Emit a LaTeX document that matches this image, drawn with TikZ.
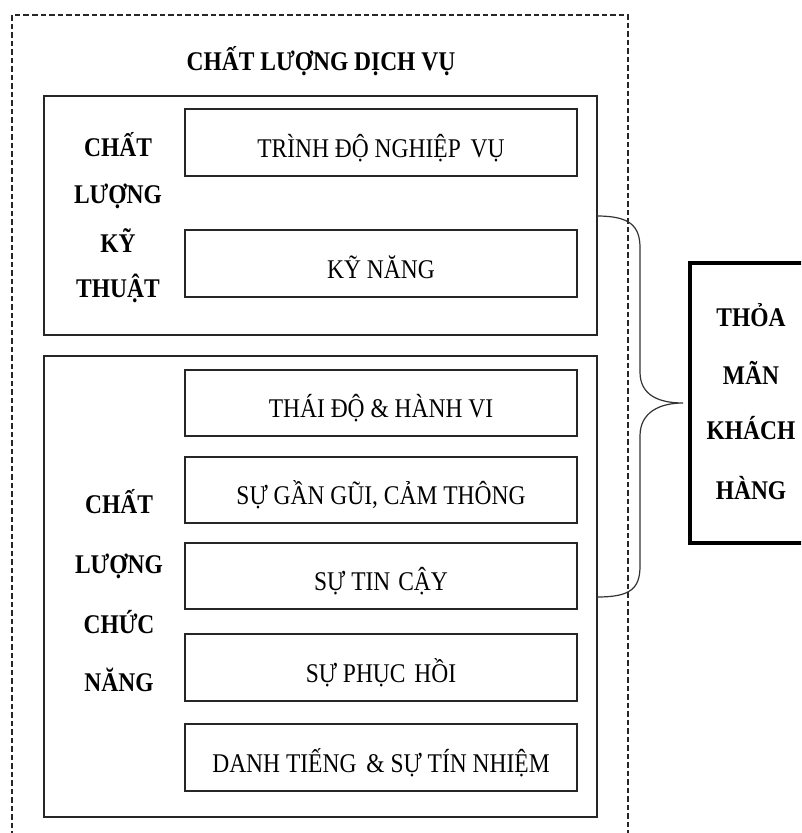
\documentclass[tikz,border=0pt]{standalone}
\usepackage{fontspec}
\setmainfont{Liberation Serif}[FakeStretch=0.87]
\begin{document}
\begin{tikzpicture}[x=1pt,y=-1pt,
  box/.style={draw=black!85, line width=1.2pt, rectangle, inner sep=0pt, outer sep=0pt},
  group/.style={box, minimum width=553pt},
  item/.style={box, minimum width=392pt, minimum height=67pt,
    font=\fontsize{27}{30}\selectfont, text height=29.9pt, text depth=0pt},
  lbl/.style={font=\bfseries\fontsize{27}{30}\selectfont, inner sep=0pt, anchor=base},
  frame/.style={draw=black!85, line width=1.2pt, dash pattern=on 5.5pt off 3pt},
  bracestyle/.style={draw=black!80, line width=1.2pt},
  result/.style={draw=black, line width=4pt, rectangle, inner sep=0pt, outer sep=0pt,
    minimum width=122pt, minimum height=280pt}]
\useasboundingbox (0,0) rectangle (801,833);
\clip (0,0) rectangle (801,833);
\fill[white] (0,0) rectangle (801,833);

% dashed frame (open at the bottom)
\draw[frame] (12,845) -- (12,15) -- (628,15) -- (628,845);

\node[lbl] (title) at (321,70.6) {CHẤT LƯỢNG DỊCH VỤ};

% technical quality group
\node[group, minimum height=239pt] (tech) at (320.5,215.5) {};
\node[lbl] (tA) at (118,156.1) {CHẤT};
\node[lbl] (tB) at (118,203.1) {LƯỢNG};
\node[lbl] (tC) at (118,252.1) {KỸ};
\node[lbl] (tD) at (118,297.1) {THUẬT};
\node[item] (b1) at (381,142.5) {TRÌNH ĐỘ NGHIỆP\hspace{4pt} VỤ};
\node[item] (b2) at (381,263.5) {KỸ NĂNG};

% functional quality group
\node[group, minimum height=461pt] (func) at (320.5,586.5) {};
\node[lbl] (fA) at (119,513.1) {CHẤT};
\node[lbl] (fB) at (119,573.1) {LƯỢNG};
\node[lbl] (fC) at (119,633.1) {CHỨC};
\node[lbl] (fD) at (119,691.1) {NĂNG};
\node[item, minimum height=66pt] (b3) at (381,403) {THÁI ĐỘ \& HÀNH VI};
\node[item, minimum height=66pt] (b4) at (381,490) {SỰ GẦN GŨI, CẢM THÔNG};
\node[item, minimum height=66pt] (b5) at (381,576) {SỰ TIN\hspace{2pt} CẬY};
\node[item] (b6) at (381,667.5) {SỰ PHỤC\hspace{3pt} HỒI};
\node[item] (b7) at (381,757.5) {DANH TIẾNG\hspace{4pt} \& SỰ TÍN NHIỆM};

% result box
\node[result] (thoa) at (751,403) {};
\node[lbl] (rA) at (751,326.1) {THỎA};
\node[lbl] (rB) at (751,384.1) {MÃN};
\node[lbl] (rC) at (751,439.1) {KHÁCH};
\node[lbl] (rD) at (751,499.1) {HÀNG};

% brace
\coordinate (bs) at (tech.east |- 0,216);
\coordinate (be) at (func.east |- 0,597);
\coordinate (tip) at ([xshift=-7pt]thoa.west);
\draw[bracestyle] (bs) .. controls (630,216) and (640,226) .. (640,248)
  -- (640,372) .. controls (640,396) and (660,403) .. (tip)
  .. controls (660,403) and (640,412) .. (640,436)
  -- (640,566) .. controls (640,589) and (630,597) .. (be);
\end{tikzpicture}
\end{document}
